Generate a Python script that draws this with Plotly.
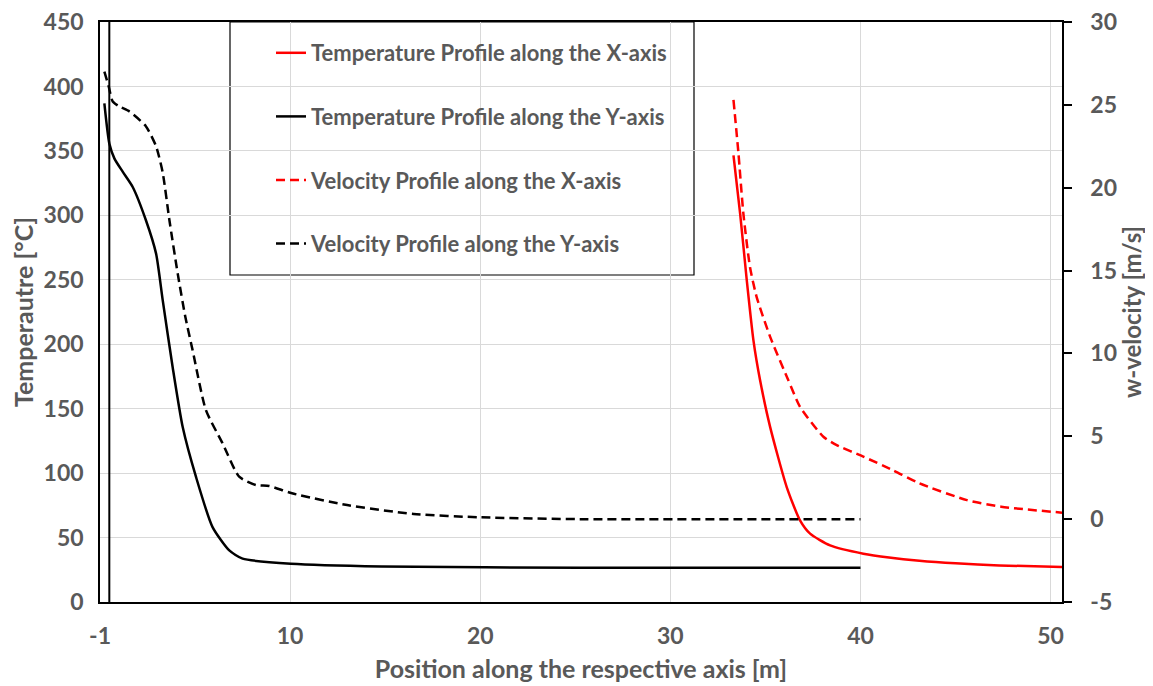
import plotly.graph_objects as go

# ---- data ----
tx_x = [33.32, 33.67, 34.02, 34.37, 34.72, 35.25, 36.12, 36.82, 37.35, 38.4, 40.15, 41.5, 43.1, 45.0, 47.3, 50.6]
tx_t = [346.6, 301.4, 249.6, 203.0, 172.0, 135.7, 89.2, 63.3, 53.0, 43.9, 37.5, 34.5, 32.0, 30.0, 28.4, 27.1]

ty_x = [0.23, 0.49, 0.76, 1.2, 1.72, 2.42, 2.95, 3.30, 3.82, 4.35, 5.05, 5.92, 6.8, 7.5, 10.04, 14.8, 25.3, 40.0]
ty_t = [386.8, 355.7, 344.0, 333.7, 322.0, 296.0, 270.3, 234.0, 182.3, 135.7, 97.0, 58.1, 40.0, 33.6, 29.7, 27.6, 26.6, 26.6]

vx_x = [33.32, 33.58, 33.84, 34.19, 34.54, 35.25, 36.2, 36.82, 38.05, 38.75, 40.15, 41.7, 43.1, 45.6, 47.4, 50.6]
vx_v = [25.3, 22.1, 18.45, 15.2, 13.4, 11.0, 8.4, 6.78, 4.97, 4.47, 3.77, 2.96, 2.16, 1.15, 0.75, 0.39]

vy_x = [0.23, 0.46, 0.67, 1.02, 1.55, 2.42, 2.95, 3.30, 3.65, 4.09, 4.49, 4.87, 5.57, 6.45, 7.32, 8.2, 8.9, 10.1, 13.0, 16.5, 20.0, 25.3, 40.0]
vy_v = [27.0, 26.1, 25.2, 24.9, 24.6, 23.7, 22.5, 20.9, 18.05, 14.8, 12.2, 10.2, 6.58, 4.57, 2.56, 2.06, 2.0, 1.56, 0.85, 0.31, 0.11, 0.0, 0.0]

wall_x = 0.49

x_tickvals = [0, 10, 20, 30, 40, 50]
x_ticktext = ["-1", "10", "20", "30", "40", "50"]
t_tickvals = [0, 50, 100, 150, 200, 250, 300, 350, 400, 450]
v_tickvals = [-5, 0, 5, 10, 15, 20, 25, 30]
v_ticktext = ["-5", "0", "5", "10", "15", "20", "25", "30"]

names = ["Temperature Profile along the X-axis",
         "Temperature Profile along the Y-axis",
         "Velocity Profile along the X-axis",
         "Velocity Profile along the Y-axis"]

GRAY = "#595959"
FONT = "Lato"
DASH = "9px,5px"

fig = go.Figure()
fig.add_trace(go.Scatter(x=tx_x, y=tx_t, mode="lines", name=names[0], legendgroup="a",
                         line=dict(color="#FF0000", width=2.5, shape="spline", smoothing=0.6)))
fig.add_trace(go.Scatter(x=ty_x, y=ty_t, mode="lines", name=names[1], legendgroup="b",
                         line=dict(color="#000000", width=2.5, shape="spline", smoothing=0.6)))
fig.add_trace(go.Scatter(x=vx_x, y=vx_v, mode="lines", name=names[2], legendgroup="c", yaxis="y2",
                         line=dict(color="#FF0000", width=2.5, dash=DASH, shape="spline", smoothing=0.6)))
fig.add_trace(go.Scatter(x=vy_x, y=vy_v, mode="lines", name=names[3], legendgroup="d", yaxis="y2",
                         line=dict(color="#000000", width=2.5, dash=DASH, shape="spline", smoothing=0.6)))

# vertical wall line
fig.add_shape(type="line", xref="x", yref="paper", x0=wall_x, x1=wall_x, y0=0, y1=1,
              line=dict(color="black", width=2))

# page body has an 8px margin: plot area spans x 100..1062, y 22..602 on screen
PL, PR, PT, PB = 100, 1062, 22, 602
PW, PH = PR - PL, PB - PT

# legend box
fig.add_shape(type="rect", xref="paper", yref="paper",
              x0=(230 - PL) / PW, x1=(694 - PL) / PW, y0=(PB - 275) / PH, y1=1,
              line=dict(color="black", width=1.2), fillcolor="white", layer="below")

tickfont = dict(family=FONT, size=23, color=GRAY, weight="bold")
titlefont = dict(family=FONT, size=25, color=GRAY, weight="bold")
rtitlefont = dict(family=FONT, size=24, color=GRAY, weight="bold")

fig.update_layout(
    width=1145, height=678,
    margin=dict(l=92, r=91, t=14, b=84, autoexpand=False),
    paper_bgcolor="white", plot_bgcolor="white",
    showlegend=True,
    legend=dict(x=(271 - PL) / PW, xanchor="left", y=1 - 10 / PH, yanchor="top",
                bgcolor="rgba(0,0,0,0)", borderwidth=0, tracegroupgap=32,
                font=dict(family=FONT, size=22, color=GRAY, weight="bold")),
    xaxis=dict(range=[0, 50.6], tickvals=x_tickvals, ticktext=x_ticktext,
               showgrid=True, gridcolor="#D9D9D9", gridwidth=1,
               showline=True, linecolor="black", linewidth=1.5, mirror=True,
               ticks="", tickfont=tickfont, ticklabelstandoff=13, ticklabeloverflow="allow",
               zeroline=False, automargin=False,
               title=dict(text="Position along the respective axis [m]", font=titlefont, standoff=12)),
    yaxis=dict(range=[0, 450], tickvals=t_tickvals, showgrid=True, gridcolor="#D9D9D9", gridwidth=1,
               showline=True, linecolor="black", linewidth=1.5, ticks="",
               tickfont=tickfont, ticklabelstandoff=10, ticklabeloverflow="allow",
               zeroline=False, automargin=False,
               title=dict(text="Temperautre [°C]", font=titlefont, standoff=12)),
    yaxis2=dict(range=[-5, 30], tickvals=v_tickvals, ticktext=v_ticktext, overlaying="y", side="right",
                showgrid=False,
                showline=True, linecolor="black", linewidth=1.5, ticks="outside", ticklen=8,
                tickcolor="black", tickwidth=1.5, automargin=False,
                tickfont=tickfont, ticklabelstandoff=14, ticklabeloverflow="allow", zeroline=False,
                title=dict(text="w-velocity [m/s]", font=rtitlefont, standoff=0)),
)

fig.write_html("out.html")
